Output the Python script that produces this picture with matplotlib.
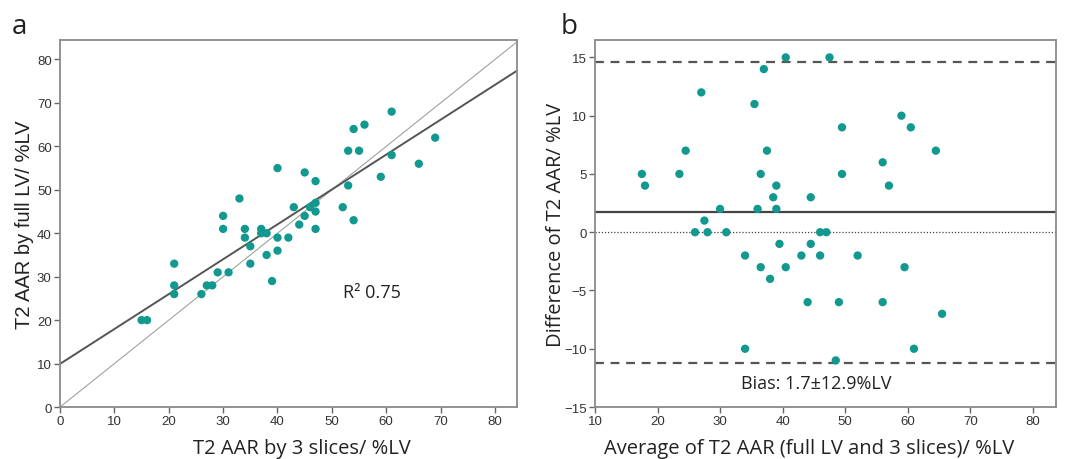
import numpy as np
import matplotlib.pyplot as plt

# Paired AAR estimates (% of LV): 3-slice method vs. full LV coverage
slices3 = [15, 16, 21, 21, 21, 26, 27, 28, 29, 31, 30, 30, 33, 34, 34, 35,
           35, 37, 37, 38, 38, 39, 40, 40, 40, 42, 43, 44, 45, 45, 46, 47,
           47, 47, 47, 52, 53, 53, 54, 54, 55, 56, 59, 61, 61, 66, 69]
full_lv = [20, 20, 33, 28, 26, 26, 28, 28, 31, 31, 41, 44, 48, 41, 39, 37,
           33, 41, 40, 40, 35, 29, 39, 36, 55, 39, 46, 42, 54, 44, 46, 52,
           47, 45, 41, 46, 51, 59, 43, 64, 59, 65, 53, 58, 68, 56, 62]

r2_text = "R\u00b2 0.75"
bias = 1.7
loa = 12.9

dot_color = "#12998f"
spine_color = "#8a8a8a"
label_font = "Open Sans"

plt.rcParams["font.family"] = ["Liberation Sans", "DejaVu Sans"]

x = np.array(slices3, dtype=float)
y = np.array(full_lv, dtype=float)
mean_xy = (x + y) / 2
diff_xy = y - x

fig = plt.figure(figsize=(10.72, 4.6), dpi=100)
ax1 = fig.add_axes([0.056, 0.113, 0.426, 0.798])
ax2 = fig.add_axes([0.555, 0.113, 0.430, 0.798])


def style_axes(ax):
    for side in ax.spines.values():
        side.set_color(spine_color)
        side.set_linewidth(1.3)
    ax.tick_params(direction="out", length=4, width=1, color="#666666",
                   labelsize=9.5, labelcolor="#333333", pad=2,
                   top=False, right=False)


# a: correlation with regression and identity lines
xs = np.array([0, 84])
slope, intercept = np.polyfit(x, y, 1)
ax1.plot(xs, xs, color="#a0a0a0", lw=0.8, zorder=1)
ax1.plot(xs, intercept + slope * xs, color="#555555", lw=1.4, zorder=2)
ax1.scatter(x, y, s=36, color=dot_color, edgecolors="none", zorder=3)
ax1.set_xlim(0, 84)
ax1.set_ylim(0, 84.5)
ax1.set_xticks(range(0, 81, 10))
ax1.set_yticks(range(0, 81, 10))
ax1.text(52, 26.5, r2_text, fontsize=13, family=label_font, color="#222222",
         va="center")
ax1.set_xlabel("T2 AAR by 3 slices/ %LV", fontsize=14.5, family=label_font,
               color="#222222")
ax1.xaxis.set_label_coords(0.53, -0.085)
ax1.set_ylabel("T2 AAR by full LV/ %LV", fontsize=14.5, color="#222222")
ax1.yaxis.set_label_coords(-0.058, 0.5)
style_axes(ax1)

# b: Bland-Altman agreement
ax2.axhline(0, color="#444444", lw=0.9, ls=(0, (1, 1.5)), zorder=1)
ax2.axhline(bias, color="#444444", lw=1.6, zorder=2)
ax2.axhline(bias + loa, color="#555555", lw=1.6, ls=(0, (4, 3)), zorder=2)
ax2.axhline(bias - loa, color="#555555", lw=1.6, ls=(0, (4, 3)), zorder=2)
ax2.scatter(mean_xy, diff_xy, s=36, color=dot_color, edgecolors="none",
            zorder=3)
ax2.set_xlim(10, 83.7)
ax2.set_ylim(-15, 16.5)
ax2.set_xticks(range(10, 81, 10))
ax2.set_yticks(range(-15, 16, 5))
ax2.text(45.4, -12.9, "Bias: %.1f\u00b1%.1f%%LV" % (bias, loa), fontsize=13,
         family=label_font, color="#222222", ha="center", va="center")
ax2.set_xlabel("Average of T2 AAR (full LV and 3 slices)/ %LV", fontsize=14.5,
               family=label_font, color="#222222")
ax2.xaxis.set_label_coords(0.465, -0.085)
ax2.set_ylabel("Difference of T2 AAR/ %LV", fontsize=14.5, family=label_font,
               color="#222222")
ax2.yaxis.set_label_coords(-0.062, 0.5)
style_axes(ax2)

fig.text(0.011, 0.925, "a", fontsize=20, family=label_font, color="#222222")
fig.text(0.523, 0.925, "b", fontsize=20, family=label_font, color="#222222")

fig.savefig("out.png", dpi=100)
